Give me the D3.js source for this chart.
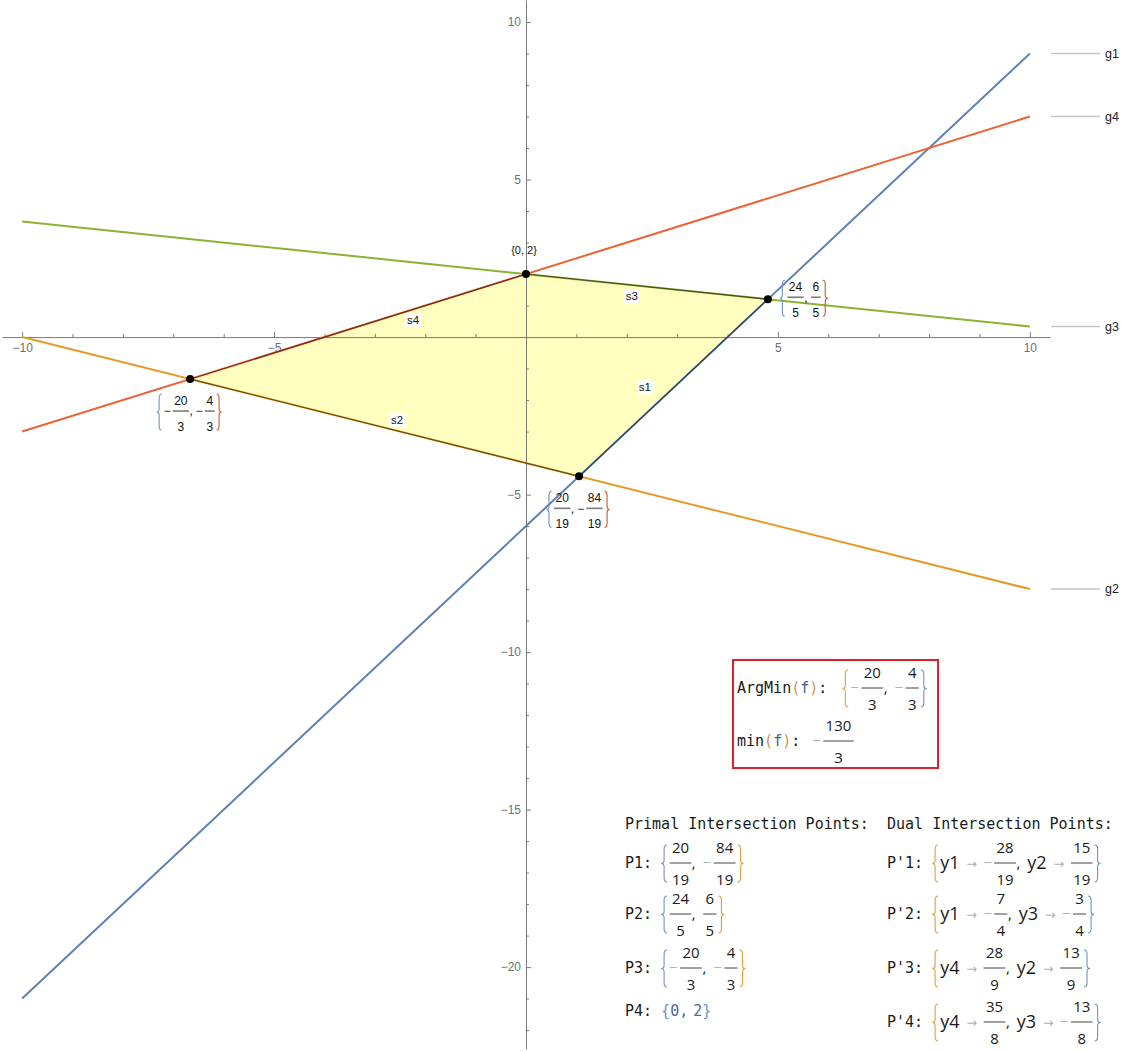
<!DOCTYPE html>
<html><head><meta charset="utf-8">
<script src="https://cdn.jsdelivr.net/npm/d3@7"></script>
<style>body{margin:0;background:#fff}svg{display:block}</style>
</head><body>
<svg id="c" width="1121" height="1052"></svg>
<script>
// ---------------- data ----------------
const lineNames = ["g1", "g2", "g3", "g4"];
const lineXEnds = [-10, 10];
const g1Y = [-21, 9];
const g2Y = [0, -8];
const g3Y = [11 / 3, 1 / 3];
const g4Y = [-3, 7];
const lineYs = [g1Y, g2Y, g3Y, g4Y];

const vertexX = [0, 24 / 5, 20 / 19, -20 / 3];
const vertexY = [2, 6 / 5, -84 / 19, -4 / 3];
const vertexLabelX = ["0", "24/5", "20/19", "-20/3"];
const vertexLabelY = ["2", "6/5", "-84/19", "-4/3"];

const edgeNames = ["s1", "s2", "s3", "s4"];
const edgeLabelX = [2.36, -2.56, 2.10, -2.24];
const edgeLabelY = [-1.59, -2.63, 1.30, 0.54];

const xTicks = [-10, -5, 5, 10];
const yTicks = [-20, -15, -10, -5, 5, 10];

const argMinValues = ["-20/3", "-4/3"];
const minValue = "-130/3";

const primalNames = ["P1", "P2", "P3", "P4"];
const primalX = ["20/19", "24/5", "-20/3", "0"];
const primalY = ["-84/19", "6/5", "-4/3", "2"];

const dualNames = ["P'1", "P'2", "P'3", "P'4"];
const dualVarA = ["y1", "y1", "y4", "y4"];
const dualValA = ["-28/19", "-7/4", "28/9", "35/8"];
const dualVarB = ["y2", "y3", "y2", "y3"];
const dualValB = ["15/19", "-3/4", "13/9", "-13/8"];

// ---------------- setup ----------------
const svg = d3.select("#c");
const x = d3.scaleLinear().domain([-10.4, 10.4]).range([2, 1050]);
const y = d3.scaleLinear().domain([10.7, -22.6]).range([0, 1049]);
const colors = d3.scaleOrdinal().domain(lineNames).range(["#5E81B5", "#E19C24", "#8FB032", "#EB6235"]);

const SANS = "'Liberation Sans', Arial, sans-serif";
const MATH = "'Open Sans', 'Noto Sans', sans-serif";
const MONO = "'DejaVu Sans Mono', monospace";
const BLUE_B = "#6f93c8", ORANGE_B = "#dfa13f";

const tmp = svg.append("text").attr("visibility", "hidden");
function tw(s, f, fs) { tmp.attr("font-family", f).attr("font-size", fs).text(s); return tmp.node().getComputedTextLength(); }

// ---------------- polygon fill ----------------
const polyPts = vertexX.map((v, i) => [x(v), y(vertexY[i])]);
svg.append("path")
  .attr("d", d3.line().curve(d3.curveLinearClosed)(polyPts))
  .attr("fill", "rgb(255,255,191)").attr("stroke", "none");

// ---------------- axes ----------------
const axisG = svg.append("g").attr("class", "axes");
function styleAxis(g) {
  g.selectAll("path,line").attr("stroke", "#7a7a7a").attr("stroke-width", 1);
  g.selectAll("text").attr("fill", "#707070").attr("font-family", SANS).attr("font-size", 12);
}
const minorX = d3.range(-10, 11).filter(v => v % 5 !== 0);
const minorY = d3.range(-22, 11).filter(v => v % 5 !== 0);

axisG.append("g").attr("transform", `translate(0,${y(0)})`)
  .call(d3.axisBottom(x).tickValues(minorX).tickSizeInner(-3).tickSizeOuter(0).tickFormat(""))
  .call(styleAxis);
axisG.append("g").attr("transform", `translate(0,${y(0)})`)
  .call(d3.axisBottom(x).tickValues(xTicks).tickSizeInner(-5).tickSizeOuter(0).tickPadding(6))
  .call(g => g.select(".domain").remove())
  .call(styleAxis);
axisG.append("g").attr("transform", `translate(${x(0)},0)`)
  .call(d3.axisLeft(y).tickValues(minorY).tickSizeInner(-3).tickSizeOuter(0).tickFormat(""))
  .call(styleAxis);
axisG.append("g").attr("transform", `translate(${x(0)},0)`)
  .call(d3.axisLeft(y).tickValues(yTicks).tickSizeInner(-5).tickSizeOuter(0).tickPadding(5))
  .call(g => g.select(".domain").remove())
  .call(styleAxis);

// ---------------- lines ----------------
const lineGen = d3.line().x(d => x(d[0])).y(d => y(d[1]));
const linesData = lineNames.map((n, i) => ({ name: n, pts: lineXEnds.map((xv, j) => [xv, lineYs[i][j]]) }));
svg.append("g").selectAll("path").data(linesData).join("path")
  .attr("d", d => lineGen(d.pts))
  .attr("fill", "none").attr("stroke", d => colors(d.name)).attr("stroke-width", 2);

// polygon outline
svg.append("path")
  .attr("d", d3.line().curve(d3.curveLinearClosed)(polyPts))
  .attr("fill", "none").attr("stroke", "#000").attr("stroke-opacity", 0.55).attr("stroke-width", 1.1);

// legend labels at line ends
const leg = svg.append("g").selectAll("g").data(linesData).join("g")
  .attr("transform", d => `translate(0,${y(d.pts[1][1])})`);
leg.append("line").attr("x1", 1051).attr("x2", 1100).attr("stroke", "#c6c6c6").attr("stroke-width", 1.5);
leg.append("text").attr("x", 1105).attr("dy", "0.35em").attr("font-family", SANS).attr("font-size", 12.5)
  .attr("fill", "#222").text(d => d.name);

// vertices
svg.append("g").selectAll("circle").data(vertexX).join("circle")
  .attr("cx", d => x(d)).attr("cy", (d, i) => y(vertexY[i])).attr("r", 4).attr("fill", "#000");

// edge labels
const el = svg.append("g").selectAll("g").data(edgeNames).join("g")
  .attr("transform", (d, i) => `translate(${x(edgeLabelX[i])},${y(edgeLabelY[i])})`);
el.append("rect").attr("x", -8).attr("y", -7).attr("width", 16).attr("height", 14).attr("fill", "#fff");
el.append("text").attr("text-anchor", "middle").attr("dy", "0.35em").attr("font-family", SANS)
  .attr("font-size", 11.5).attr("fill", "#111").text(d => d);

// ---------------- math typesetting helpers ----------------
function braceD(x0, top, bot, w, side) {
  const m = (top + bot) / 2, h = bot - top;
  const b = x0 + w * 0.5;
  const a = side === "l" ? x0 + w : x0;
  const c = side === "l" ? x0 : x0 + w;
  return `M${a},${top}Q${b},${top} ${b},${top + h * 0.12}L${b},${m - h * 0.09}Q${b},${m} ${c},${m}` +
    `Q${b},${m} ${b},${m + h * 0.09}L${b},${bot - h * 0.12}Q${b},${bot} ${a},${bot}`;
}
function valTokens(s) {
  const t = [];
  if (s.startsWith("-")) { t.push({ k: "minus" }); s = s.slice(1); }
  if (s.includes("/")) { const p = s.split("/"); t.push({ k: "fr", n: p[0], d: p[1] }); }
  else t.push({ k: "t", s });
  return t;
}
function drawMath(g, x0, ay, tokens, o) {
  let cx = x0;
  tokens.forEach(tk => {
    if (tk.k === "sp") { cx += tk.w; return; }
    if (tk.k === "t") {
      const f = tk.font || o.font, fs = tk.fs || o.fs;
      g.append("text").attr("x", cx).attr("y", ay + fs * 0.36).attr("font-family", f).attr("font-size", fs)
        .attr("fill", tk.c || o.textC).text(tk.s);
      cx += tw(tk.s, f, fs);
      return;
    }
    if (tk.k === "comma") {
      g.append("text").attr("x", cx).attr("y", ay + o.fs * 0.36).attr("font-family", o.font).attr("font-size", o.fs)
        .attr("fill", o.textC).text(",");
      cx += tw(",", o.font, o.fs) + o.commaGap;
      return;
    }
    if (tk.k === "minus") {
      g.append("text").attr("x", cx).attr("y", ay + o.fs * 0.36).attr("font-family", o.font).attr("font-size", o.fs)
        .attr("fill", o.minusC).text("\u2212");
      cx += tw("\u2212", o.font, o.fs) + o.minusGap;
      return;
    }
    if (tk.k === "arrow") {
      const af = "'DejaVu Sans', sans-serif", afs = o.fs * 0.85;
      cx += 7;
      g.append("text").attr("x", cx).attr("y", ay + o.fs * 0.36).attr("font-family", af)
        .attr("font-size", afs).attr("fill", "#b0b0b0").text("\u2192");
      cx += tw("\u2192", af, afs) + 6;
      return;
    }
    if (tk.k === "fr") {
      const w = Math.max(tw(tk.n, o.font, o.fs), tw(tk.d, o.font, o.fs)) + 2 * o.barPad;
      g.append("text").attr("x", cx + w / 2).attr("y", ay + o.numDy).attr("text-anchor", "middle")
        .attr("font-family", o.font).attr("font-size", o.fs).attr("fill", o.textC).text(tk.n);
      g.append("text").attr("x", cx + w / 2).attr("y", ay + o.denDy).attr("text-anchor", "middle")
        .attr("font-family", o.font).attr("font-size", o.fs).attr("fill", o.textC).text(tk.d);
      g.append("line").attr("x1", cx + 0.5).attr("x2", cx + w - 0.5).attr("y1", ay).attr("y2", ay)
        .attr("stroke", o.barC).attr("stroke-width", o.barW);
      cx += w;
      return;
    }
    if (tk.k === "b") {
      if (tk.side === "r") cx += 1.5;
      g.append("path").attr("d", braceD(cx, ay + o.braceTop, ay + o.braceBot, o.braceW, tk.side))
        .attr("fill", "none").attr("stroke", tk.c).attr("stroke-width", 1.1);
      cx += o.braceW + 2;
      return;
    }
  });
  return cx;
}

// ---------------- vertex labels ----------------
const smallOpt = { font: SANS, fs: 12, numDy: -6.5, denDy: 19.5, barC: "#7c7c7c", barW: 1.6, braceTop: -17, braceBot: 19,
  braceW: 5, minusC: "#222", minusGap: 1.5, commaGap: 3, textC: "#111", barPad: 2 };
const labG = svg.append("g");
vertexLabelX.forEach((lx, i) => {
  const px = x(vertexX[i]), py = y(vertexY[i]);
  if (!lx.includes("/") && !vertexLabelY[i].includes("/")) {
    labG.append("text").attr("x", px - 2).attr("y", py - 20).attr("text-anchor", "middle")
      .attr("font-family", SANS).attr("font-size", 11).attr("fill", "#111").text(`{${lx}, ${vertexLabelY[i]}}`);
    return;
  }
  const toks = [{ k: "b", side: "l", c: BLUE_B }, ...valTokens(lx), { k: "comma" }, ...valTokens(vertexLabelY[i]),
    { k: "b", side: "r", c: "#d2552f" }];
  const g = labG.append("g");
  const w = drawMath(g, 0, 0, toks, smallOpt);
  if (vertexY[i] > 0) g.attr("transform", `translate(${px + 12},${py - 2})`);
  else g.attr("transform", `translate(${px - w / 2},${py + 32})`);
});

// ---------------- ArgMin box ----------------
const rowOpt = { font: MATH, fs: 15, numDy: -10.5, denDy: 21.5, barC: "#444", barW: 1, braceTop: -18, braceBot: 19,
  braceW: 6, minusC: "#b3b3b3", minusGap: 2, commaGap: 7, textC: "#1a1a1a", barPad: 2.8 };
const box = svg.append("g");
box.append("rect").attr("x", 733).attr("y", 660).attr("width", 205).attr("height", 108)
  .attr("fill", "none").attr("stroke", "#e0202a").attr("stroke-width", 2);
const PAREN = "#c9954a", FVAR = "#3f5f86";
function fLabel(name) {
  return [{ k: "t", s: name, font: MONO }, { k: "t", s: "(", font: MONO, c: PAREN }, { k: "t", s: "f", font: MONO, c: FVAR },
    { k: "t", s: ")", font: MONO, c: PAREN }, { k: "t", s: ":", font: MONO }, { k: "sp", w: 9 }];
}
drawMath(box, 737, 688, [...fLabel("ArgMin"), { k: "sp", w: 6 }, { k: "b", side: "l", c: ORANGE_B }, ...valTokens(argMinValues[0]),
  { k: "comma" }, ...valTokens(argMinValues[1]), { k: "b", side: "r", c: BLUE_B }], rowOpt);
drawMath(box, 737, 741, [...fLabel("min"), { k: "sp", w: 3 }, ...valTokens(minValue)], rowOpt);

// ---------------- Primal / Dual lists ----------------
const lists = svg.append("g");
const rowAxis = [863, 914, 968, 1011];
const dualAxis = [863, 914, 968, 1022];
lists.append("text").attr("x", 625).attr("y", 829).attr("font-family", MONO).attr("font-size", 15).attr("fill", "#1a1a1a")
  .text("Primal Intersection Points:");
lists.append("text").attr("x", 887).attr("y", 829).attr("font-family", MONO).attr("font-size", 15).attr("fill", "#1a1a1a")
  .text("Dual Intersection Points:");

primalNames.forEach((n, i) => {
  const plain = !primalX[i].includes("/") && !primalY[i].includes("/");
  if (plain) {
    drawMath(lists, 625, rowAxis[i], [{ k: "t", s: n + ":", font: MONO }, { k: "sp", w: 9 },
      { k: "t", s: "{", font: MONO, c: BLUE_B }, { k: "t", s: primalX[i], font: MONO, c: "#4a6a9a" },
      { k: "t", s: ",", font: MONO, c: "#4a6a9a" }, { k: "sp", w: 5 }, { k: "t", s: primalY[i], font: MONO, c: "#4a6a9a" },
      { k: "t", s: "}", font: MONO, c: BLUE_B }], rowOpt);
    return;
  }
  drawMath(lists, 625, rowAxis[i], [{ k: "t", s: n + ":", font: MONO }, { k: "sp", w: 9 },
    { k: "b", side: "l", c: BLUE_B }, ...valTokens(primalX[i]), { k: "comma" }, ...valTokens(primalY[i]),
    { k: "b", side: "r", c: ORANGE_B }], rowOpt);
});

dualNames.forEach((n, i) => {
  drawMath(lists, 887, dualAxis[i], [{ k: "t", s: n + ":", font: MONO }, { k: "sp", w: 9 },
    { k: "b", side: "l", c: ORANGE_B }, { k: "t", s: dualVarA[i], fs: 18 }, { k: "arrow" }, ...valTokens(dualValA[i]),
    { k: "comma" }, { k: "t", s: dualVarB[i], fs: 18 }, { k: "arrow" }, ...valTokens(dualValB[i]),
    { k: "b", side: "r", c: BLUE_B }], rowOpt);
});
</script>
</body></html>
